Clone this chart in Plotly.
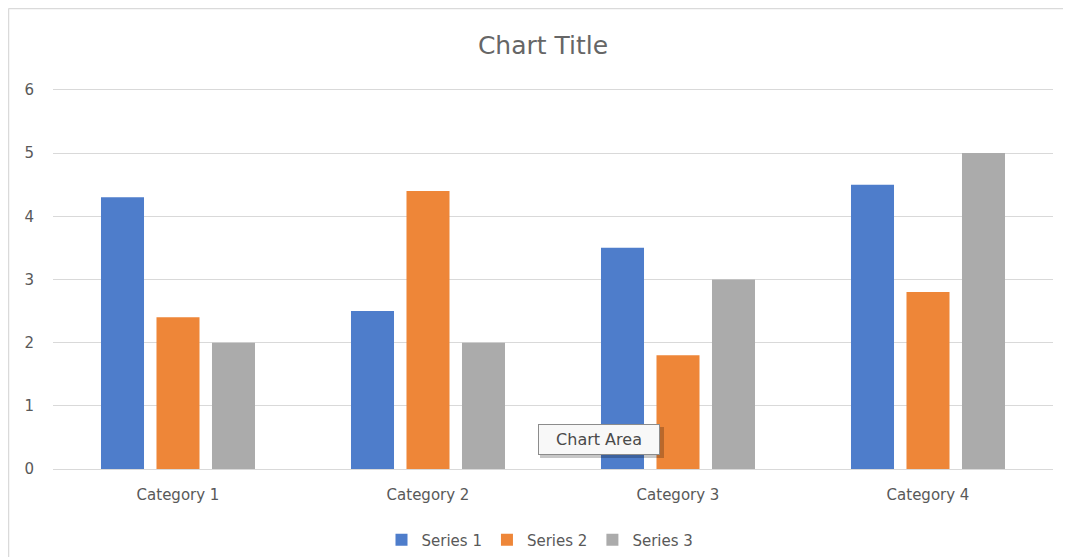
import plotly.graph_objects as go

categories = ["Category 1", "Category 2", "Category 3", "Category 4"]
series_names = ["Series 1", "Series 2", "Series 3"]
series1 = [4.3, 2.5, 3.5, 4.5]
series2 = [2.4, 4.4, 1.8, 2.8]
series3 = [2, 2, 3, 5]
colors = ["#4E7DCB", "#EE8638", "#ABABAB"]

fig = go.Figure()
for name, vals, col in zip(series_names, [series1, series2, series3], colors):
    fig.add_trace(go.Bar(x=categories, y=vals, name=name,
                         marker=dict(color=col, line=dict(width=0))))

# page body has 8px margin: figure occupies page px 8..1071, 8..557
W, H = 1063, 549
L, R, T, B = 45, 18, 80, 88
PW, PH = W - L - R, H - T - B


def px(page_x):
    return (page_x - 8 - L) / PW


def py(page_y):
    return (H - B - (page_y - 8)) / PH


font_family = "'DejaVu Sans', sans-serif"
fig.update_layout(
    width=W, height=H,
    margin=dict(l=L, r=R, t=T, b=B, autoexpand=False),
    paper_bgcolor="white", plot_bgcolor="white",
    barmode="group", bargap=0.334, bargroupgap=0.225,
    title=dict(text="Chart Title", x=535 / W, xanchor="center",
               y=1 - 37 / H, yanchor="middle",
               font=dict(family=font_family, size=25, color="#666666")),
    font=dict(family=font_family, size=15, color="#595959"),
    showlegend=True,
    legend=dict(orientation="h", x=px(540), xanchor="center", y=py(540), yanchor="middle",
                font=dict(size=15, color="#595959"), itemwidth=30, traceorder="normal"),
    xaxis=dict(showline=True, linecolor="#D9D9D9", linewidth=1, showgrid=False, ticks="",
               automargin=False, fixedrange=True,
               tickfont=dict(size=15, color="#595959"), ticklabelstandoff=12),
    yaxis=dict(range=[0, 6.03], tickvals=[0, 1, 2, 3, 4, 5, 6], showgrid=True,
               gridcolor="#D9D9D9", gridwidth=1, automargin=False,
               zeroline=False, showline=False, ticks="",
               tickfont=dict(size=15, color="#595959"), ticklabelstandoff=18),
)

# Chart area frame (top and left edges)
fig.add_shape(type="line", xref="paper", yref="paper", x0=px(8.5), x1=px(1071),
              y0=py(8.5), y1=py(8.5), line=dict(color="#DADADA", width=1.5))
fig.add_shape(type="line", xref="paper", yref="paper", x0=px(8.5), x1=px(8.5),
              y0=py(8.5), y1=py(557), line=dict(color="#DADADA", width=1.5))

# Tooltip "Chart Area" with a soft shadow
fig.add_shape(type="rect", xref="paper", yref="paper", x0=px(540), x1=px(664),
              y0=py(427), y1=py(458), line=dict(width=0), fillcolor="rgba(0,0,0,0.22)")
fig.add_annotation(xref="paper", yref="paper", x=px(599), y=py(439.5),
                   xanchor="center", yanchor="middle",
                   text="Chart Area", showarrow=False, width=118, height=27,
                   font=dict(family=font_family, size=16, color="#4A4A4A"),
                   bgcolor="#F8F8F8", bordercolor="#8C8C8C", borderwidth=1, borderpad=1)

fig.write_html("out.html")
